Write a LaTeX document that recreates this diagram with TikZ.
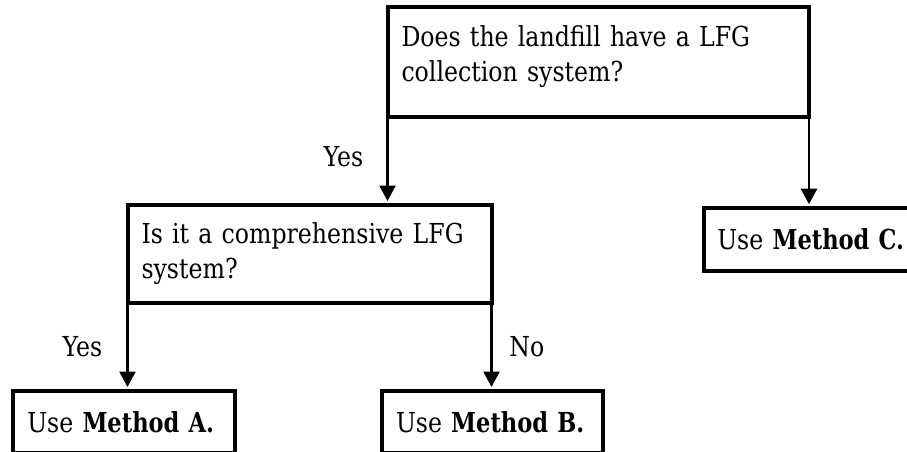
\documentclass[tikz,border=0pt]{standalone}
\usepackage{fontspec}
\setmainfont{DejaVu Serif}[FakeStretch=0.86, BoldFeatures={FakeStretch=0.82}]
\usetikzlibrary{arrows.meta}

\tikzset{
  txt/.style={font=\fontsize{27.5pt}{35pt}\selectfont},
  qbox/.style={txt, draw=black, line width=4pt, rectangle, outer sep=0pt,
    inner xsep=14pt, inner ysep=0pt, align=left, anchor=north west},
  flow/.style={draw=black, line width=2.6pt,
    -{Triangle[length=15.5pt,width=16pt]}, shorten >=3.5pt},
  lbl/.style={txt, inner sep=0pt}
}

\begin{document}
\begin{tikzpicture}[x=1pt,y=-1pt]
  \useasboundingbox (0,0) rectangle (907,452);
  \clip (0,0) rectangle (907,452);
  \fill[white] (0,0) rectangle (907,452);

  % decision boxes
  \node[qbox, text width=393.5pt, minimum width=421.5pt, minimum height=110pt]
    (q1) at (387.5,7)
    {Does the landfill have a LFG\\collection system?\rule[-17pt]{0pt}{17pt}};
  \node[qbox, text width=336pt, minimum width=364pt, minimum height=98.5pt]
    (q2) at (127.5,204.5)
    {Is it a comprehensive LFG\\system?};

  % outcome boxes (the right one runs past the edge)
  \node[qbox, inner xsep=13pt, text width=202pt, minimum width=228pt,
    minimum height=63.3pt]
    (mc) at (704.3,207.7) {\mbox{Use \textbf{Method C.}}};
  \node[qbox, text width=194pt, minimum width=222pt, minimum height=62.5pt]
    (ma) at (13.3,390.5) {\mbox{Use \textbf{Method A.}}};
  \node[qbox, text width=193.3pt, minimum width=221.3pt, minimum height=62.5pt]
    (mb) at (382,390.5) {\mbox{Use \textbf{Method B.}}};

  % connectors
  \draw[flow] (q1.south west) --
    node[lbl, pos=0.56, anchor=base east, xshift=-23pt] {Yes}
    (q1.south west |- q2.north);
  \draw[flow] (q1.south east) -- (q1.south east |- mc.north);
  \draw[flow] (q2.south west) --
    node[lbl, pos=0.606, anchor=base east, xshift=-24pt] {Yes}
    (q2.south west |- ma.north);
  \draw[flow] (q2.south east) --
    node[lbl, pos=0.606, anchor=base west, xshift=16.5pt] {No}
    (q2.south east |- mb.north);
\end{tikzpicture}
\end{document}
